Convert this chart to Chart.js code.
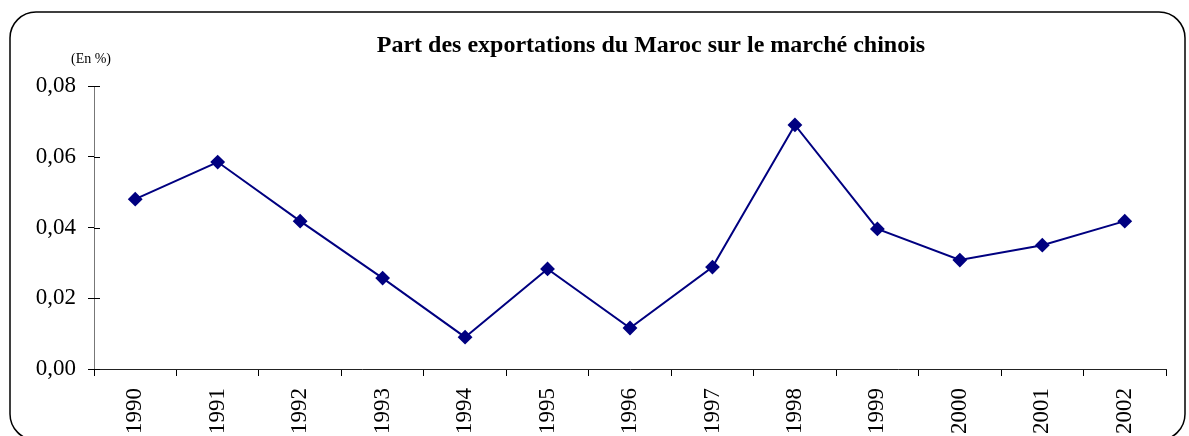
<!DOCTYPE html>
<html lang="fr">
<head>
<meta charset="UTF-8">
<title>Part des exportations du Maroc sur le marché chinois</title>
<script src="https://cdn.jsdelivr.net/npm/chart.js"></script>
<style>
  body { margin: 0; background: #fff; }
  #wrap { width: 1189px; height: 436px; position: relative; }
</style>
</head>
<body>
<div id="wrap"><canvas id="myChart" width="1189" height="436"></canvas></div>
<script>
const years = ['1990','1991','1992','1993','1994','1995','1996','1997','1998','1999','2000','2001','2002'];
const shares = [0.048, 0.0585, 0.0418, 0.0257, 0.009, 0.0283, 0.0116, 0.0288, 0.069, 0.0396, 0.0308, 0.035, 0.0418];
const yMin = 0, yMax = 0.08, yStep = 0.02;
const chartTitle = 'Part des exportations du Maroc sur le marché chinois';
const unitLabel = '(En %)';

const serif = '"Liberation Serif", "Times New Roman", serif';

// frame + title drawn by hand, chart does the rest
const decor = {
  id: 'decor',
  beforeDraw(chart) {
    const c = chart.ctx;
    c.save();
    c.fillStyle = '#fff';
    c.fillRect(0, 0, chart.width, chart.height);
    c.strokeStyle = '#000';
    c.lineWidth = 1.5;
    c.beginPath();
    c.roundRect(10, 12, 1175, 428, 26);
    c.stroke();
    c.restore();
  },
  afterDraw(chart) {
    const c = chart.ctx;
    c.save();
    // y ticks also poke a little into the plot
    const y = chart.scales.y;
    c.strokeStyle = '#000';
    c.lineWidth = 1;
    y.ticks.forEach((t, i) => {
      const py = Math.round(y.getPixelForTick(i)) + 0.5;
      c.beginPath();
      c.moveTo(y.right, py);
      c.lineTo(y.right + 6, py);
      c.stroke();
    });
    c.fillStyle = '#000';
    c.textBaseline = 'middle';
    c.textAlign = 'center';
    c.font = 'bold 24px ' + serif;
    c.fillText(chartTitle, 651, 46);
    c.font = '14px ' + serif;
    c.fillText(unitLabel, 91, 59);
    c.restore();
  }
};

new Chart(document.getElementById('myChart'), {
  type: 'line',
  data: {
    labels: years,
    datasets: [{
      data: shares,
      borderColor: '#000080',
      backgroundColor: '#000080',
      borderWidth: 2,
      pointStyle: 'rectRot',
      pointRadius: 6,
      pointHoverRadius: 6,
      tension: 0
    }]
  },
  options: {
    responsive: false,
    animation: false,
    layout: { padding: { top: 86, right: 23, left: 0, bottom: 0 } },
    plugins: { legend: { display: false }, tooltip: { enabled: false }, title: { display: false } },
    scales: {
      x: {
        offset: true,
        grid: { drawOnChartArea: false, offset: true, tickLength: 7, color: '#000' },
        border: { color: '#222', width: 1 },
        ticks: {
          minRotation: 90, maxRotation: 90, padding: 12,
          color: '#000', font: { family: serif, size: 23 }
        },
        afterFit(scale) { scale.height = 67; }
      },
      y: {
        min: yMin, max: yMax,
        grid: { drawOnChartArea: false, tickLength: 6, color: '#000' },
        border: { color: '#777', width: 1 },
        ticks: {
          stepSize: yStep, padding: 12, color: '#000',
          font: { family: serif, size: 23 },
          callback: v => v.toFixed(2).replace('.', ',')
        },
        afterFit(scale) { scale.width = 94; }
      }
    }
  },
  plugins: [decor]
});
</script>
</body>
</html>
